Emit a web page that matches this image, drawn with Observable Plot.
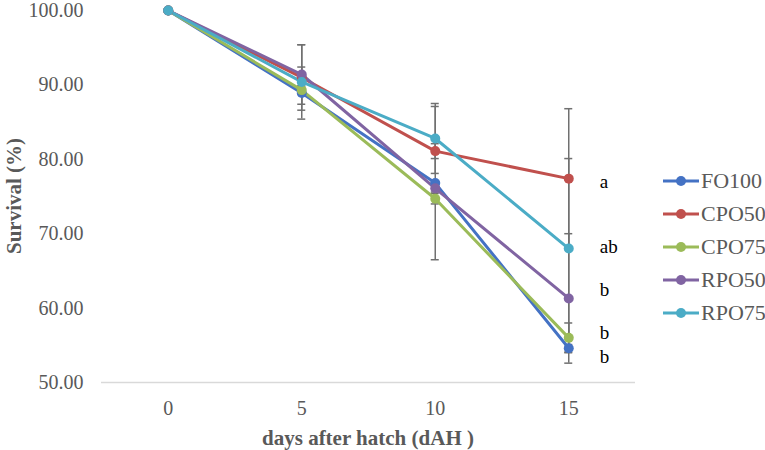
<!DOCTYPE html>
<html>
<head>
<meta charset="utf-8">
<script src="https://cdn.jsdelivr.net/npm/d3@7"></script>
<script src="https://cdn.jsdelivr.net/npm/@observablehq/plot@0.6"></script>
<style>
  body { margin: 0; background: #fff; }
  #wrap { position: relative; width: 765px; height: 450px; font-family: "Liberation Serif", "Times New Roman", serif; }
  #legend { position: absolute; left: 663px; top: 164px; }
  .item { display: flex; align-items: center; height: 33.2px; font-size: 22px; color: #595959; }
  .item svg { margin-right: 2px; }
  .title { position: absolute; font-weight: bold; font-size: 21px; color: #595959; white-space: nowrap; line-height: 1; }
  #xtitle { left: 368px; top: 438px; transform: translate(-50%, -50%); }
  #ytitle { left: 14px; top: 196px; transform: translate(-50%, -50%) rotate(-90deg); }
</style>
</head>
<body>
<div id="wrap"><div id="legend"></div></div>
<script>
const days = [0, 5, 10, 15];
const seriesNames = ["FO100", "CPO50", "CPO75", "RPO50", "RPO75"];
const seriesColors = ["#4472C4", "#C0504D", "#9BBB59", "#8064A2", "#4BACC6"];
const FO100 = [100, 88.9, 76.8, 54.6];
const CPO50 = [100, 91.0, 81.1, 77.4];
const CPO75 = [100, 89.3, 74.7, 56.0];
const RPO50 = [100, 91.4, 76.1, 61.3];
const RPO75 = [100, 90.4, 82.8, 68.0];
const FO100_err = [0, 3.5, 10.3, 0.5];
const CPO50_err = [0, 4.4, 1.0, 9.4];
const CPO75_err = [0, 0.5, 0.7, 2.0];
const RPO50_err = [0, 4.0, 0.5, 8.7];
const RPO75_err = [0, 0.5, 4.7, 12.1];
const letterText = ["a", "ab", "b", "b", "b"];
const letterY = [76.9, 68.2, 62.4, 56.6, 53.4];
const yTicks = [50, 60, 70, 80, 90, 100];
const xTitle = "days after hatch (dAH )";
const yTitle = "Survival (%)";

const values = {FO100, CPO50, CPO75, RPO50, RPO75};
const errs = {FO100: FO100_err, CPO50: CPO50_err, CPO75: CPO75_err, RPO50: RPO50_err, RPO75: RPO75_err};
const data = [];
for (const s of seriesNames) {
  days.forEach((d, i) => data.push({series: s, day: d, value: values[s][i], err: errs[s][i]}));
}
const letters = letterText.map((t, i) => ({text: t, day: 15, y: letterY[i]}));
const bars = data.filter(d => d.err > 0);
const errStyle = {stroke: "#707070", strokeWidth: 1.5};

const chart = Plot.plot({
  width: 765,
  height: 450,
  marginLeft: 101,
  marginRight: 130,
  marginTop: 10,
  marginBottom: 68,
  style: {fontFamily: "Liberation Serif, Times New Roman, serif", background: "#fff"},
  x: {domain: [-2.5, 17.5]},
  y: {domain: [50, 100]},
  color: {domain: seriesNames, range: seriesColors},
  marks: [
    Plot.ruleY([50], {stroke: "#d9d9d9", strokeWidth: 1.5}),
    Plot.ruleX(bars, {x: "day", y1: d => d.value - d.err, y2: d => d.value + d.err, ...errStyle}),
    Plot.ruleY(bars, {y: d => d.value + d.err, x1: d => d.day - 0.15, x2: d => d.day + 0.15, ...errStyle}),
    Plot.ruleY(bars, {y: d => d.value - d.err, x1: d => d.day - 0.15, x2: d => d.day + 0.15, ...errStyle}),
    Plot.line(data, {x: "day", y: "value", z: "series", stroke: "series", strokeWidth: 3}),
    Plot.dot(data, {x: "day", y: "value", fill: "series", r: 5}),
    Plot.text(letters, {x: "day", y: "y", text: "text", dx: 31, textAnchor: "start", fontSize: 19, fill: "#000"}),
    Plot.axisX({ticks: days, tickFormat: d => String(d), tickSize: 0, tickPadding: 18, fontSize: 20, fill: "#595959", label: null}),
    Plot.axisY({ticks: yTicks, tickFormat: d => d.toFixed(2), tickSize: 0, tickPadding: 18, fontSize: 20, fill: "#595959", label: null})
  ]
});
const wrap = document.getElementById("wrap");
wrap.insertBefore(chart, document.getElementById("legend"));

const xt = document.createElement("div"); xt.className = "title"; xt.id = "xtitle"; xt.textContent = xTitle; wrap.appendChild(xt);
const yt = document.createElement("div"); yt.className = "title"; yt.id = "ytitle"; yt.textContent = yTitle; wrap.appendChild(yt);

const legend = document.getElementById("legend");
seriesNames.forEach((s, i) => {
  const item = document.createElement("div");
  item.className = "item";
  item.innerHTML = `<svg width="36" height="12"><line x1="0" y1="6" x2="36" y2="6" stroke="${seriesColors[i]}" stroke-width="3"/><circle cx="18" cy="6" r="5" fill="${seriesColors[i]}"/></svg><span>${s}</span>`;
  legend.appendChild(item);
});
</script>
</body>
</html>
